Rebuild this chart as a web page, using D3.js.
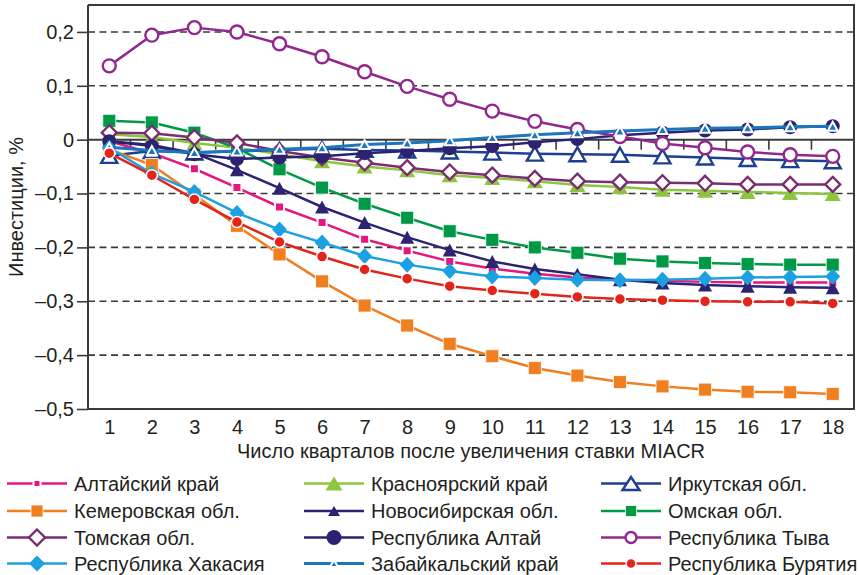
<!DOCTYPE html>
<html><head><meta charset="utf-8">
<script src="https://cdn.jsdelivr.net/npm/d3@7"></script>
<style>
body{margin:0;background:#fff;}
svg{display:block;font-family:"Liberation Sans",Arial,sans-serif;}
</style></head><body>
<svg id="chart" width="859" height="575"></svg>
<script>
// Quarters after the MIACR rate increase
const quarters = d3.range(1, 19);
const yTicks = [0.2, 0.1, 0, -0.1, -0.2, -0.3, -0.4, -0.5];

// Investment response, % (one array per region)
const altaiKrai      = [-0.003,-0.025,-0.054,-0.089,-0.125,-0.154,-0.185,-0.206,-0.226,-0.239,-0.249,-0.256,-0.260,-0.262,-0.264,-0.265,-0.265,-0.265];
const krasnoyarsk    = [0.010,0.005,-0.006,-0.015,-0.027,-0.040,-0.050,-0.057,-0.066,-0.071,-0.077,-0.084,-0.088,-0.093,-0.095,-0.097,-0.099,-0.101];
const irkutsk        = [-0.030,-0.021,-0.024,-0.022,-0.019,-0.017,-0.019,-0.020,-0.022,-0.024,-0.026,-0.027,-0.028,-0.031,-0.033,-0.036,-0.038,-0.040];
const kemerovo       = [-0.018,-0.047,-0.102,-0.160,-0.213,-0.263,-0.308,-0.345,-0.379,-0.402,-0.424,-0.438,-0.450,-0.458,-0.464,-0.468,-0.469,-0.472];
const novosibirsk    = [-0.003,-0.010,-0.025,-0.056,-0.090,-0.125,-0.154,-0.181,-0.205,-0.226,-0.240,-0.250,-0.260,-0.266,-0.270,-0.272,-0.274,-0.275];
const omsk           = [0.035,0.032,0.013,-0.016,-0.055,-0.089,-0.119,-0.145,-0.170,-0.186,-0.200,-0.210,-0.221,-0.226,-0.229,-0.231,-0.232,-0.232];
const tomsk          = [0.013,0.012,0.004,-0.006,-0.021,-0.033,-0.043,-0.052,-0.060,-0.066,-0.072,-0.077,-0.079,-0.080,-0.081,-0.083,-0.083,-0.083];
const altaiRep       = [-0.003,-0.012,-0.027,-0.036,-0.033,-0.031,-0.025,-0.021,-0.016,-0.012,-0.005,0.001,0.008,0.013,0.017,0.019,0.023,0.025];
const tyva           = [0.137,0.194,0.208,0.200,0.178,0.154,0.126,0.099,0.075,0.053,0.034,0.019,0.006,-0.007,-0.015,-0.023,-0.028,-0.031];
const khakassia      = [-0.015,-0.063,-0.097,-0.136,-0.167,-0.191,-0.216,-0.232,-0.244,-0.254,-0.257,-0.260,-0.261,-0.260,-0.258,-0.256,-0.255,-0.254];
const zabaikalsky    = [-0.014,-0.020,-0.024,-0.021,-0.018,-0.015,-0.009,-0.006,-0.002,0.004,0.009,0.013,0.016,0.019,0.021,0.022,0.024,0.025];
const buryatia       = [-0.025,-0.066,-0.111,-0.153,-0.190,-0.217,-0.241,-0.258,-0.272,-0.280,-0.286,-0.292,-0.296,-0.298,-0.300,-0.301,-0.301,-0.304];

const regionNames = ["Алтайский край","Красноярский край","Иркутская обл.",
  "Кемеровская обл.","Новосибирская обл.","Омская обл.",
  "Томская обл.","Республика Алтай","Республика Тыва",
  "Республика Хакасия","Забайкальский край","Республика Бурятия"];
const regionValues = [altaiKrai,krasnoyarsk,irkutsk,kemerovo,novosibirsk,omsk,
  tomsk,altaiRep,tyva,khakassia,zabaikalsky,buryatia];

// Marker / line styling per region (same order as names)
const styles = [
  {color:"#e5177e", shape:"square",   w:9,  h:9,  fill:"c", halo:2,   lw:2.5, lw2:7, lh2:7},
  {color:"#8cc63e", shape:"triangle", w:16, h:14, fill:"c", halo:0,   lw:2.5, lw2:17, lh2:14},
  {color:"#1d3f8f", shape:"triangle", w:16, h:14, fill:"#fff", halo:0, lw:2.5, sw:2.4, lw2:17, lh2:13},
  {color:"#f07f1f", shape:"square",   w:13, h:13, fill:"c", halo:0.8, lw:2.5, lw2:12, lh2:12},
  {color:"#2c2373", shape:"triangle", w:14, h:13, fill:"c", halo:0,   lw:2.5, lw2:12, lh2:10},
  {color:"#009a47", shape:"square",   w:13, h:13, fill:"c", halo:0.8, lw:2.5, lw2:11, lh2:11},
  {color:"#7b2e6f", shape:"diamond",  w:15, h:15, fill:"#fff", halo:0, lw:2.5, sw:2.4, lw2:16, lh2:16},
  {color:"#2b2371", shape:"circle",   w:14, h:14, fill:"c", halo:0,   lw:2.5, lw2:15, lh2:15},
  {color:"#922790", shape:"circle",   w:13, h:13, fill:"#fff", halo:0, lw:2.5, sw:2.4, lw2:11, lh2:11},
  {color:"#1ba1e2", shape:"diamond",  w:15, h:16, fill:"c", halo:0,   lw:2.5, lw2:16, lh2:16},
  {color:"#1b76bd", shape:"triangle", w:10, h:9,  fill:"c", halo:2,   lw:3,   lw2:8, lh2:7},
  {color:"#e2241b", shape:"circle",   w:11, h:11, fill:"c", halo:1.5, lw:2.5, lw2:10, lh2:10}
];

const plot = {left: 88, right: 854, top: 5, bottom: 409};
const axisColor = "#3a3a3a";
const textColor = "#231f20";
const fontSize = 20;

const svg = d3.select("#chart");

const x = d3.scalePoint().domain(quarters).range([plot.left, plot.right]).padding(0.5);
const y = d3.scaleLinear().domain([-0.5, 0.25]).range([plot.bottom, plot.top]);
const step = x.step();

const fmt = v => {
  if (Math.abs(v) < 1e-9) return "0";
  return (v < 0 ? "\u2013" : "") + Math.abs(v).toFixed(1).replace(".", ",");
};

// dashed horizontal grid
svg.append("g").selectAll("line")
  .data(yTicks.filter(v => Math.abs(v) > 1e-9 && v > -0.5))
  .join("line")
  .attr("x1", plot.left).attr("x2", plot.right)
  .attr("y1", d => y(d)).attr("y2", d => y(d))
  .attr("stroke", axisColor).attr("stroke-width", 1.6)
  .attr("stroke-dasharray", "7,4.5");

// frame (top, right, bottom)
svg.append("path")
  .attr("d", `M${plot.left},${plot.top}H${plot.right}V${plot.bottom}H${plot.left}`)
  .attr("fill", "none").attr("stroke", axisColor).attr("stroke-width", 2);

// y axis
const yAxis = d3.axisLeft(y).tickValues(yTicks).tickFormat(fmt).tickSize(11).tickPadding(3);
const gy = svg.append("g").attr("transform", `translate(${plot.left},0)`).call(yAxis);
gy.select(".domain").attr("stroke", axisColor).attr("stroke-width", 2)
  .attr("d", `M0,${plot.top}V${plot.bottom}`);
gy.selectAll(".tick line").attr("stroke", axisColor).attr("stroke-width", 1.6);
gy.selectAll(".tick text").attr("fill", textColor).style("font-size", fontSize + "px")
  .style("font-family", "'Liberation Sans', Arial, sans-serif");

// zero line with category boundary ticks
const zeroY = y(0);
svg.append("line").attr("x1", plot.left).attr("x2", plot.right)
  .attr("y1", zeroY).attr("y2", zeroY)
  .attr("stroke", axisColor).attr("stroke-width", 2);
svg.append("g").selectAll("line")
  .data(quarters.slice(0, -1))
  .join("line")
  .attr("x1", d => x(d) + step / 2).attr("x2", d => x(d) + step / 2)
  .attr("y1", zeroY).attr("y2", zeroY + 10)
  .attr("stroke", axisColor).attr("stroke-width", 1.6);

// x tick labels along the bottom
const xAxis = d3.axisBottom(x).tickSize(0).tickPadding(0);
const gx = svg.append("g").attr("transform", `translate(0,${plot.bottom})`).call(xAxis);
gx.select(".domain").remove();
gx.selectAll(".tick text").attr("dy", null).attr("y", 25).attr("fill", textColor)
  .style("font-size", fontSize + "px")
  .style("font-family", "'Liberation Sans', Arial, sans-serif");

// axis titles
svg.append("text")
  .attr("x", 471).attr("y", 458)
  .attr("text-anchor", "middle").attr("fill", textColor).style("font-size", fontSize + "px")
  .text("Число кварталов после увеличения ставки MIACR");
svg.append("text")
  .attr("transform", `translate(23,${(plot.top + plot.bottom) / 2}) rotate(-90)`)
  .attr("text-anchor", "middle").attr("fill", textColor).style("font-size", fontSize + "px")
  .text("Инвестиции, %");

// marker path generators
function markerPath(shape, w, h) {
  if (shape === "square") return `M${-w/2},${-h/2}h${w}v${h}h${-w}Z`;
  if (shape === "diamond") return `M0,${-h/2}L${w/2},0L0,${h/2}L${-w/2},0Z`;
  if (shape === "triangle") return `M0,${-h/2}L${w/2},${h/2}L${-w/2},${h/2}Z`;
  const r = w / 2;
  return `M${r},0A${r},${r},0,1,1,${-r},0A${r},${r},0,1,1,${r},0Z`;
}
function drawMarker(g, st, w, h) {
  const p = g.append("path").attr("d", markerPath(st.shape, w, h));
  if (st.fill === "c") {
    p.attr("fill", st.color);
    if (st.halo > 0) p.attr("stroke", "#fff").attr("stroke-width", st.halo);
  } else {
    p.attr("fill", st.fill).attr("stroke", st.color).attr("stroke-width", st.sw);
  }
}

// series lines and markers
const line = d3.line().x((d, i) => x(quarters[i])).y(d => y(d));
const series = svg.append("g");
regionValues.forEach((vals, k) => {
  const st = styles[k];
  const g = series.append("g");
  g.append("path").datum(vals).attr("d", line)
    .attr("fill", "none").attr("stroke", st.color).attr("stroke-width", st.lw)
    .attr("stroke-linejoin", "round");
  vals.forEach((v, i) => {
    const m = g.append("g").attr("transform", `translate(${x(quarters[i])},${y(v)})`);
    drawMarker(m, st, st.w, st.h);
  });
});

// legend: 3 columns x 4 rows
const legCols = [7, 304, 601];
const legRows = [483.5, 511, 537.5, 563.5];
const legend = svg.append("g");
regionNames.forEach((name, k) => {
  const st = styles[k];
  const lx = legCols[k % 3], ly = legRows[Math.floor(k / 3)];
  const g = legend.append("g").attr("transform", `translate(${lx},${ly})`);
  g.append("line").attr("x1", 0).attr("x2", 60).attr("y1", 0).attr("y2", 0)
    .attr("stroke", st.color).attr("stroke-width", st.lw);
  const m = g.append("g").attr("transform", "translate(30,0)");
  drawMarker(m, st, st.lw2, st.lh2);
  g.append("text").attr("x", 67).attr("y", 7).attr("fill", textColor)
    .style("font-size", fontSize + "px").text(name);
});
</script>
</body></html>
